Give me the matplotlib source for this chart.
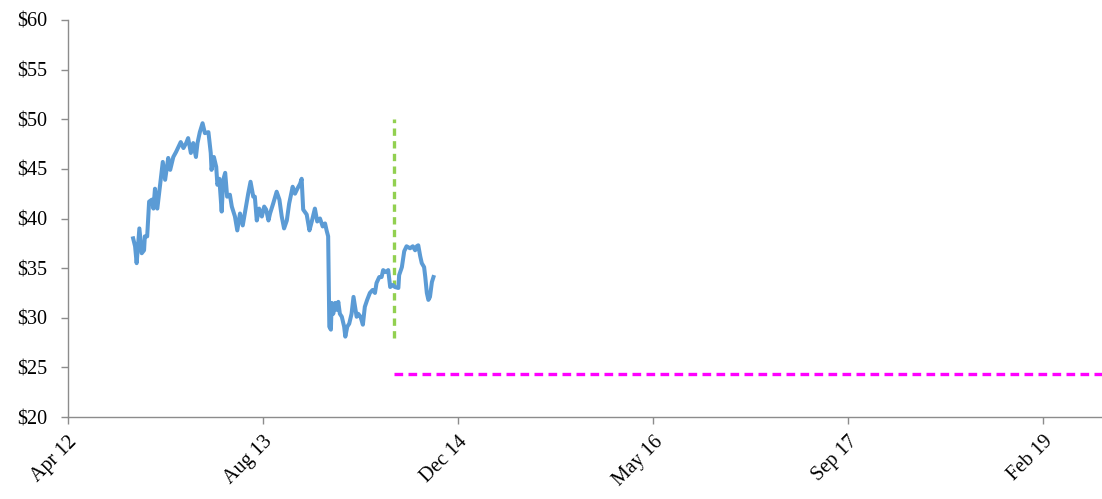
import numpy as np
import matplotlib
matplotlib.use('Agg')
import matplotlib.pyplot as plt
import matplotlib.dates as mdates
from matplotlib.ticker import FixedLocator, StrMethodFormatter

# days counted from 1 Apr 2012 (the axis start)
base = np.datetime64('2012-04-01')

price_days = [167, 172, 176, 183, 189, 195, 197, 203, 208, 215, 219, 223, 229, 234,
              243, 249, 257, 262, 270, 277, 289, 296, 303, 308, 315, 321, 328, 332,
              338, 345, 351, 360, 366, 368, 374, 380, 383, 388, 394, 398, 403, 408,
              415, 420, 428, 434, 441, 448, 454, 462, 468, 475, 479, 484, 490, 497,
              503, 508, 514, 518, 526, 535, 542, 548, 554, 561, 567, 576, 582, 588,
              595, 599, 603, 612, 619, 625, 633, 639, 646, 653, 659, 663, 667, 670,
              674, 676, 680, 685, 689, 693, 697, 702, 708, 711, 716, 721, 727, 732,
              736, 740, 744, 750, 756, 761, 767, 774, 781, 787, 791, 798, 804, 808,
              815, 821, 826, 833, 838, 847, 849, 856, 862, 868, 877, 884, 890, 894,
              898, 903, 907, 913, 916, 920, 924, 928, 933, 937]
prices = [38.0, 37.2, 35.5, 39.0, 36.5, 36.8, 38.2, 38.2, 41.7, 41.9, 41.0, 43.0, 41.0, 42.7,
          45.7, 43.9, 46.1, 44.9, 46.2, 46.7, 47.7, 47.1, 47.6, 48.1, 46.6, 47.6, 46.2, 47.6,
          48.7, 49.6, 48.6, 48.7, 46.6, 44.9, 46.2, 45.2, 43.4, 44.0, 40.7, 43.9, 44.6, 42.2,
          42.4, 41.2, 40.2, 38.8, 40.5, 39.3, 40.7, 42.5, 43.7, 42.2, 42.2, 39.8, 41.0, 40.2,
          41.2, 40.9, 39.8, 40.5, 41.5, 42.7, 41.9, 40.2, 39.0, 39.8, 41.5, 43.2, 42.5, 43.0,
          43.5, 44.0, 40.9, 40.4, 38.8, 39.7, 41.0, 39.7, 40.0, 39.2, 39.5, 38.8, 38.2, 29.1,
          28.8, 31.5, 30.4, 31.5, 30.8, 31.6, 30.4, 30.1, 29.1, 28.1, 29.1, 29.4, 30.4, 32.1,
          31.1, 30.1, 30.4, 30.1, 29.3, 31.1, 31.8, 32.5, 32.8, 32.5, 33.5, 34.1, 34.1, 34.8,
          34.6, 34.8, 33.1, 33.3, 33.1, 33.0, 34.3, 35.1, 36.7, 37.2, 37.0, 37.2, 36.8, 37.2,
          37.3, 36.2, 35.5, 35.1, 34.1, 32.5, 31.8, 32.1, 33.6, 34.1]

event_day = 836          # vertical marker
event_low, event_high = 28, 50
target_price = 24.33     # horizontal marker
axis_end_day = 2651

dates = base + np.array(price_days).astype('timedelta64[D]')
event_date = base + np.timedelta64(event_day, 'D')
end_date = base + np.timedelta64(axis_end_day, 'D')
tick_dates = [base + np.timedelta64(500 * k, 'D') for k in range(6)]

plt.rcParams['font.family'] = ['Liberation Serif', 'DejaVu Serif']

fig = plt.figure(figsize=(11.02, 4.99), dpi=100)
ax = fig.add_axes([68 / 1102, 1 - 417 / 499, 1 - 68 / 1102, 397 / 499])

ax.plot(dates, prices, color='#5B9BD5', lw=2.9, solid_joinstyle='round', zorder=3)
ax.plot([event_date, event_date], [event_low, event_high], color='#92D050',
        lw=2.4, dashes=(2.2, 1.6), zorder=2)
ax.plot([event_date, end_date], [target_price, target_price], color='#FF00FF',
        lw=2.4, dashes=(2.6, 1.6), zorder=2)

ax.set_xlim(base, end_date)
ax.set_ylim(20, 60)
ax.xaxis.set_major_locator(FixedLocator(mdates.date2num(tick_dates)))
ax.xaxis.set_major_formatter(mdates.DateFormatter('%b %y'))
ax.yaxis.set_major_locator(FixedLocator(np.arange(20, 61, 5)))
ax.yaxis.set_major_formatter(StrMethodFormatter('${x:.0f}'))

for s in ['top', 'right']:
    ax.spines[s].set_visible(False)
for s in ['left', 'bottom']:
    ax.spines[s].set_color('#8c8c8c')
    ax.spines[s].set_linewidth(1)
ax.tick_params(axis='both', colors='#8c8c8c', length=5, width=1, labelcolor='black',
               labelsize=14.5)
ax.tick_params(axis='y', pad=10)
ax.tick_params(axis='x', pad=6)
for lbl in ax.get_xticklabels():
    lbl.set_rotation(45)
    lbl.set_ha('right')
    lbl.set_rotation_mode('anchor')

fig.savefig('out.png', dpi=100)
